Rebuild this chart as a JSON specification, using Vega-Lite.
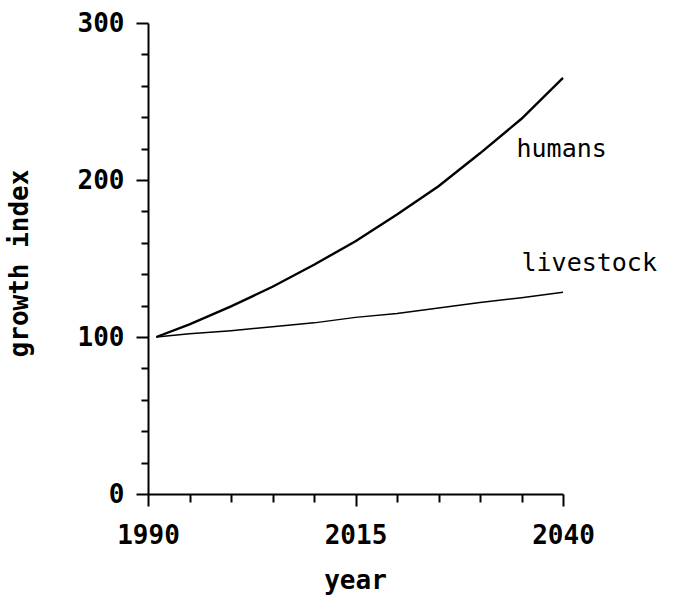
{
  "$schema": "https://vega.github.io/schema/vega-lite/v6.json",
  "autosize": "none",
  "width": 415,
  "height": 471,
  "padding": {"left": 148, "top": 23, "right": 111, "bottom": 102},
  "background": "white",
  "config": {"view": {"stroke": null}, "font": "DejaVu Sans Mono"},
  "datasets": {
    "lines": [
      {"series": "humans", "year": 1991, "value": 100},
      {"series": "humans", "year": 1995, "value": 108},
      {"series": "humans", "year": 2000, "value": 119.5},
      {"series": "humans", "year": 2005, "value": 132},
      {"series": "humans", "year": 2010, "value": 146},
      {"series": "humans", "year": 2015, "value": 161},
      {"series": "humans", "year": 2020, "value": 178},
      {"series": "humans", "year": 2025, "value": 196},
      {"series": "humans", "year": 2030, "value": 217},
      {"series": "humans", "year": 2035, "value": 239},
      {"series": "humans", "year": 2040, "value": 265},
      {"series": "livestock", "year": 1991, "value": 100},
      {"series": "livestock", "year": 1995, "value": 102},
      {"series": "livestock", "year": 2000, "value": 104},
      {"series": "livestock", "year": 2005, "value": 106.5},
      {"series": "livestock", "year": 2010, "value": 109},
      {"series": "livestock", "year": 2015, "value": 112.5},
      {"series": "livestock", "year": 2020, "value": 115},
      {"series": "livestock", "year": 2025, "value": 118.5},
      {"series": "livestock", "year": 2030, "value": 122},
      {"series": "livestock", "year": 2035, "value": 125},
      {"series": "livestock", "year": 2040, "value": 128.5}
    ],
    "labels": [
      {"year": 2034.4, "value": 220, "text": "humans"},
      {"year": 2035.0, "value": 147, "text": "livestock"}
    ]
  },
  "encoding": {
    "x": {
      "field": "year", "type": "quantitative",
      "scale": {"domain": [1990, 2040], "nice": false, "zero": false},
      "axis": {
        "title": "year",
        "values": [1990, 1995, 2000, 2005, 2010, 2015, 2020, 2025, 2030, 2035, 2040],
        "labelExpr": "(datum.value == 1990 || datum.value == 2015 || datum.value == 2040) ? format(datum.value, 'd') : ''",
        "grid": false,
        "domainColor": "black", "domainWidth": 2,
        "tickColor": "black", "tickWidth": 2,
        "tickSize": {"condition": {"test": "datum.value == 1990 || datum.value == 2015 || datum.value == 2040", "value": 12}, "value": 8},
        "labelPadding": 16,
        "labelBaseline": "top",
        "labelFont": "DejaVu Sans Mono", "labelFontSize": 26, "labelFontWeight": "bold", "labelColor": "black",
        "labelFlush": false, "labelOverlap": false,
        "titleFont": "DejaVu Sans Mono", "titleFontSize": 26, "titleFontWeight": "bold", "titleColor": "black",
        "titleX": 207, "titleY": 94, "titleBaseline": "alphabetic", "titleAlign": "center"
      }
    },
    "y": {
      "field": "value", "type": "quantitative",
      "scale": {"domain": [0, 300], "nice": false},
      "axis": {
        "title": "growth index",
        "values": [0, 20, 40, 60, 80, 100, 120, 140, 160, 180, 200, 220, 240, 260, 280, 300],
        "labelExpr": "datum.value % 100 == 0 ? format(datum.value, 'd') : ''",
        "grid": false,
        "domainColor": "black", "domainWidth": 2,
        "tickColor": "black", "tickWidth": 2,
        "tickSize": {"condition": {"test": "datum.value % 100 == 0", "value": 12}, "value": 7},
        "labelPadding": 12,
        "labelFont": "DejaVu Sans Mono", "labelFontSize": 26, "labelFontWeight": "bold", "labelColor": "black",
        "labelFlush": false, "labelOverlap": false,
        "titleFont": "DejaVu Sans Mono", "titleFontSize": 26, "titleFontWeight": "bold", "titleColor": "black",
        "titleAngle": 270, "titleX": -129, "titleY": 240, "titleBaseline": "middle", "titleAlign": "center"
      }
    }
  },
  "layer": [
    {
      "data": {"name": "lines"},
      "mark": {"type": "line", "color": "black"},
      "encoding": {
        "detail": {"field": "series"},
        "strokeWidth": {
          "field": "series", "type": "nominal",
          "scale": {"domain": ["humans", "livestock"], "range": [2.4, 1.5]},
          "legend": null
        }
      }
    },
    {
      "data": {"name": "labels"},
      "mark": {"type": "text", "align": "left", "baseline": "middle", "font": "DejaVu Sans Mono", "fontSize": 25, "color": "black"},
      "encoding": {
        "text": {"field": "text"}
      }
    }
  ]
}
